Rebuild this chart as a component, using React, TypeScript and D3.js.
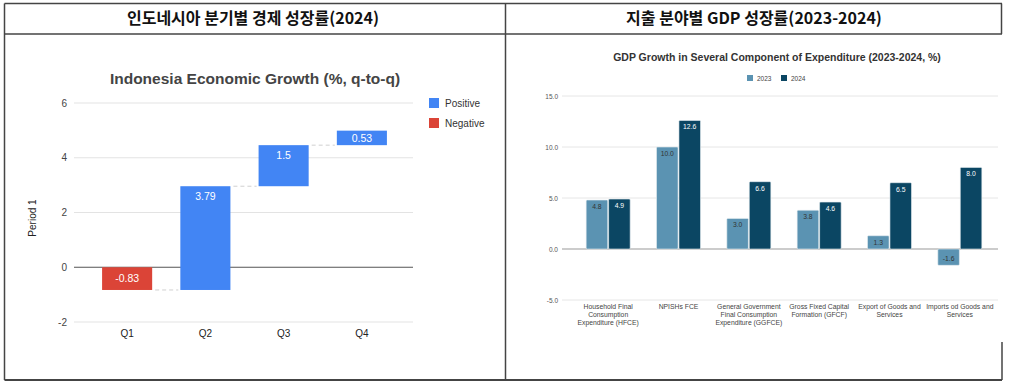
import { useEffect, useRef } from 'react'
import * as d3 from 'd3'

// left panel: quarterly waterfall
const quarters = ['Q1', 'Q2', 'Q3', 'Q4']
const qoqGrowth = [-0.83, 3.79, 1.5, 0.53]
const leftTicks = [-2, 0, 2, 4, 6]

// right panel: expenditure components
const components = [
  ['Household Final', 'Consumption', 'Expenditure (HFCE)'],
  ['NPISHs FCE'],
  ['General Government', 'Final Consumption', 'Expenditure (GGFCE)'],
  ['Gross Fixed Capital', 'Formation (GFCF)'],
  ['Export of Goods and', 'Services'],
  ['Imports od Goods and', 'Services'],
]
const growth2023 = [4.8, 10.0, 3.0, 3.8, 1.3, -1.6]
const growth2024 = [4.9, 12.6, 6.6, 4.6, 6.5, 8.0]
const years = ['2023', '2024']
const rightTicks = [-5, 0, 5, 10, 15]

const W = 1009
const H = 388
const FONT = "'Liberation Sans', Arial, sans-serif"
const KFONT = "'Noto Sans CJK KR', sans-serif"

export default function App() {
  const ref = useRef<SVGSVGElement | null>(null)

  useEffect(() => {
    const svg = d3.select(ref.current)
    svg.selectAll('*').remove()

    // frame
    const frame = svg.append('g').attr('stroke', '#444').attr('stroke-width', 1.5).attr('fill', 'none')
    frame.append('line').attr('x1', 4.5).attr('x2', 1002).attr('y1', 3.5).attr('y2', 3.5)
    frame.append('line').attr('x1', 4.5).attr('x2', 1002).attr('y1', 34).attr('y2', 34)
    frame.append('line').attr('x1', 4.5).attr('x2', 4.5).attr('y1', 3.5).attr('y2', 380)
    frame.append('line').attr('x1', 505.5).attr('x2', 505.5).attr('y1', 3.5).attr('y2', 380)
    frame.append('line').attr('x1', 1001.5).attr('x2', 1001.5).attr('y1', 3.5).attr('y2', 34)
    frame.append('line').attr('x1', 1002).attr('x2', 1002).attr('y1', 342).attr('y2', 380)
    frame.append('line').attr('x1', 4.5).attr('x2', 1002).attr('y1', 380).attr('y2', 380).attr('stroke-width', 2)

    svg.append('text').attr('x', 253).attr('y', 24).attr('text-anchor', 'middle')
      .attr('font-family', KFONT).attr('font-weight', 'bold').attr('font-size', 16).attr('fill', '#111')
      .text('인도네시아 분기별 경제 성장률(2024)')
    svg.append('text').attr('x', 754).attr('y', 24).attr('text-anchor', 'middle')
      .attr('font-family', KFONT).attr('font-weight', 'bold').attr('font-size', 16).attr('fill', '#111')
      .text('지출 분야별 GDP 성장률(2023-2024)')

    // ---------- left waterfall ----------
    const L = svg.append('g').attr('font-family', FONT)
    L.append('text').attr('x', 255).attr('y', 84).attr('text-anchor', 'middle')
      .attr('font-weight', 'bold').attr('font-size', 15.5).attr('fill', '#444')
      .text('Indonesia Economic Growth (%, q-to-q)')

    const ly = d3.scaleLinear().domain([-2, 6]).range([322, 103])
    const lx = d3.scaleBand().domain(quarters).range([88, 401]).paddingInner(0.36).paddingOuter(0.18)

    leftTicks.forEach((t) => {
      L.append('line').attr('x1', 74).attr('x2', 413).attr('y1', ly(t)).attr('y2', ly(t))
        .attr('stroke', t === 0 ? '#555' : '#e3e3e3').attr('stroke-width', t === 0 ? 1.2 : 1)
      L.append('text').attr('x', 67).attr('y', ly(t) + 3.5).attr('text-anchor', 'end')
        .attr('font-size', 10).attr('fill', '#444').text(String(t))
    })
    L.append('text').attr('transform', `translate(36,218) rotate(-90)`).attr('text-anchor', 'middle')
      .attr('font-size', 10).attr('fill', '#222').text('Period 1')

    let run = 0
    const steps = qoqGrowth.map((v) => {
      const start = run
      run += v
      return { start, end: run, v }
    })
    steps.forEach((s, i) => {
      const q = quarters[i]
      const x0 = lx(q)!
      const bw = lx.bandwidth()
      const top = ly(Math.max(s.start, s.end))
      const bot = ly(Math.min(s.start, s.end))
      L.append('rect').attr('x', x0).attr('y', top).attr('width', bw).attr('height', bot - top)
        .attr('fill', s.v >= 0 ? '#4285f4' : '#db4437')
      const ty = s.v >= 0 ? Math.min(top + 14, (top + bot) / 2 + 4) : ly(s.start) + 15
      L.append('text').attr('x', x0 + bw / 2).attr('y', ty).attr('text-anchor', 'middle')
        .attr('font-size', 10.5).attr('fill', '#fff').text(String(s.v))
      if (i < steps.length - 1) {
        const nx = lx(quarters[i + 1])!
        L.append('line').attr('x1', x0 + bw + 3).attr('x2', nx - 2).attr('y1', ly(s.end)).attr('y2', ly(s.end))
          .attr('stroke', '#d0d0d0').attr('stroke-dasharray', '4,3')
      }
      L.append('text').attr('x', x0 + bw / 2).attr('y', 337).attr('text-anchor', 'middle')
        .attr('font-size', 10).attr('fill', '#222').text(q)
    })

    const legend = [['Positive', '#4285f4'], ['Negative', '#db4437']]
    legend.forEach(([name, c], i) => {
      L.append('rect').attr('x', 429).attr('y', 98 + i * 20).attr('width', 10).attr('height', 10).attr('fill', c)
      L.append('text').attr('x', 445).attr('y', 107 + i * 20).attr('font-size', 10).attr('fill', '#333').text(name)
    })

    // ---------- right grouped bars ----------
    const R = svg.append('g').attr('font-family', FONT)
    R.append('text').attr('x', 777).attr('y', 61).attr('text-anchor', 'middle')
      .attr('font-weight', 'bold').attr('font-size', 10.5).attr('fill', '#333')
      .text('GDP Growth in Several Component of Expenditure (2023-2024, %)')

    const colors = ['#5b93b2', '#0b4663']
    years.forEach((y, i) => {
      R.append('rect').attr('x', 747 + i * 34).attr('y', 75).attr('width', 6).attr('height', 6).attr('fill', colors[i])
      R.append('text').attr('x', 757 + i * 34).attr('y', 80.5).attr('font-size', 6.5).attr('fill', '#444').text(y)
    })

    const ry = d3.scaleLinear().domain([-5, 15]).range([300, 96])
    const rx = d3.scaleBand().domain(components.map((d) => d.join(' '))).range([573, 995])
    const inner = d3.scaleBand().domain(years).range([0, 44]).paddingInner(0.04)

    rightTicks.forEach((t) => {
      R.append('line').attr('x1', 562).attr('x2', 998).attr('y1', ry(t)).attr('y2', ry(t))
        .attr('stroke', t === 0 ? '#999' : '#e6e6e6').attr('stroke-width', t === 0 ? 1.2 : 1)
      R.append('text').attr('x', 558).attr('y', ry(t) + 2.5).attr('text-anchor', 'end')
        .attr('font-size', 6.5).attr('fill', '#555').text(t.toFixed(1))
    })

    components.forEach((lines, ci) => {
      const key = lines.join(' ')
      const cx = rx(key)! + rx.bandwidth() / 2
      const g0 = cx - 22
      ;[growth2023[ci], growth2024[ci]].forEach((v, yi) => {
        const bx = g0 + inner(years[yi])!
        const bw = inner.bandwidth()
        const top = ry(Math.max(0, v))
        const bot = ry(Math.min(0, v))
        R.append('rect').attr('x', bx).attr('y', top).attr('width', bw).attr('height', bot - top)
          .attr('rx', 1).attr('fill', colors[yi]).attr('stroke', '#e8eef2').attr('stroke-width', 0.6)
        const ty = v >= 0 ? top + 9 : bot - 4
        R.append('text').attr('x', bx + bw / 2).attr('y', ty).attr('text-anchor', 'middle')
          .attr('font-size', 6.8).attr('fill', yi === 0 ? '#333' : '#fff').text(v.toFixed(1))
      })
      lines.forEach((ln, li) => {
        R.append('text').attr('x', cx).attr('y', 309 + li * 8).attr('text-anchor', 'middle')
          .attr('font-size', 6.8).attr('fill', '#444').text(ln)
      })
    })
  }, [])

  return (
    <svg
      ref={ref}
      width={W}
      height={H}
      style={{ position: 'absolute', left: 0, top: 0, background: '#fff' }}
    />
  )
}
